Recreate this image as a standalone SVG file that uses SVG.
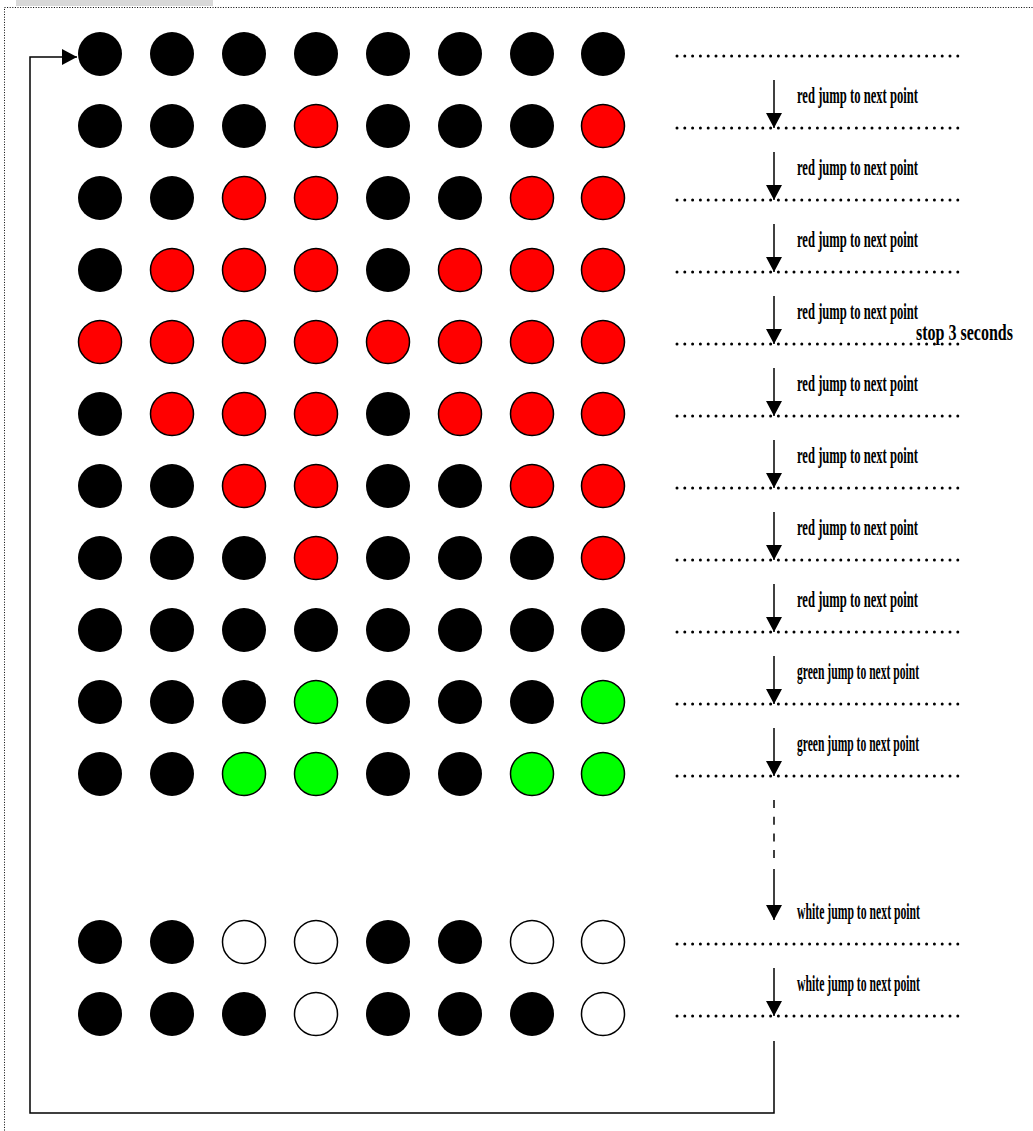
<svg xmlns="http://www.w3.org/2000/svg" width="1033" height="1131" viewBox="0 0 1033 1131">
<defs>
<style>
.b{fill:#000}
.r{fill:#ff0000;stroke:#000;stroke-width:1.5}
.g{fill:#00ff00;stroke:#000;stroke-width:1.5}
.w{fill:#fff;stroke:#000;stroke-width:1.5}
.dot{stroke:#000;stroke-width:3;stroke-linecap:round;stroke-dasharray:0 7.8;fill:none}
.arr{stroke:#000;stroke-width:1.5;fill:none}
.lbl{font-family:"Liberation Serif","Times New Roman",serif;font-size:24px;font-weight:bold;fill:#000}
</style>
<marker id="ah" markerUnits="userSpaceOnUse" markerWidth="16" markerHeight="16" viewBox="0 0 16 16" refX="15" refY="8" orient="auto">
<path d="M0,0 L15,8 L0,16 Z" fill="#000"/>
</marker>
</defs>
<rect x="16" y="0" width="197" height="6" fill="#d9d9d9"/>
<rect x="4.5" y="7.5" width="1040" height="1140" fill="none" stroke="#000" stroke-width="1" stroke-dasharray="1 1.6"/>

<g id="grid">
<g id="row1"><circle class="b" cx="100" cy="54" r="22"/><circle class="b" cx="172" cy="54" r="22"/><circle class="b" cx="244" cy="54" r="22"/><circle class="b" cx="316" cy="54" r="22"/><circle class="b" cx="388" cy="54" r="22"/><circle class="b" cx="460" cy="54" r="22"/><circle class="b" cx="532" cy="54" r="22"/><circle class="b" cx="603" cy="54" r="22"/></g>
<g id="row2"><circle class="b" cx="100" cy="126" r="22"/><circle class="b" cx="172" cy="126" r="22"/><circle class="b" cx="244" cy="126" r="22"/><circle class="r" cx="316" cy="126" r="21.5"/><circle class="b" cx="388" cy="126" r="22"/><circle class="b" cx="460" cy="126" r="22"/><circle class="b" cx="532" cy="126" r="22"/><circle class="r" cx="603" cy="126" r="21.5"/></g>
<g id="row3"><circle class="b" cx="100" cy="198" r="22"/><circle class="b" cx="172" cy="198" r="22"/><circle class="r" cx="244" cy="198" r="21.5"/><circle class="r" cx="316" cy="198" r="21.5"/><circle class="b" cx="388" cy="198" r="22"/><circle class="b" cx="460" cy="198" r="22"/><circle class="r" cx="532" cy="198" r="21.5"/><circle class="r" cx="603" cy="198" r="21.5"/></g>
<g id="row4"><circle class="b" cx="100" cy="270" r="22"/><circle class="r" cx="172" cy="270" r="21.5"/><circle class="r" cx="244" cy="270" r="21.5"/><circle class="r" cx="316" cy="270" r="21.5"/><circle class="b" cx="388" cy="270" r="22"/><circle class="r" cx="460" cy="270" r="21.5"/><circle class="r" cx="532" cy="270" r="21.5"/><circle class="r" cx="603" cy="270" r="21.5"/></g>
<g id="row5"><circle class="r" cx="100" cy="342" r="21.5"/><circle class="r" cx="172" cy="342" r="21.5"/><circle class="r" cx="244" cy="342" r="21.5"/><circle class="r" cx="316" cy="342" r="21.5"/><circle class="r" cx="388" cy="342" r="21.5"/><circle class="r" cx="460" cy="342" r="21.5"/><circle class="r" cx="532" cy="342" r="21.5"/><circle class="r" cx="603" cy="342" r="21.5"/></g>
<g id="row6"><circle class="b" cx="100" cy="414" r="22"/><circle class="r" cx="172" cy="414" r="21.5"/><circle class="r" cx="244" cy="414" r="21.5"/><circle class="r" cx="316" cy="414" r="21.5"/><circle class="b" cx="388" cy="414" r="22"/><circle class="r" cx="460" cy="414" r="21.5"/><circle class="r" cx="532" cy="414" r="21.5"/><circle class="r" cx="603" cy="414" r="21.5"/></g>
<g id="row7"><circle class="b" cx="100" cy="486" r="22"/><circle class="b" cx="172" cy="486" r="22"/><circle class="r" cx="244" cy="486" r="21.5"/><circle class="r" cx="316" cy="486" r="21.5"/><circle class="b" cx="388" cy="486" r="22"/><circle class="b" cx="460" cy="486" r="22"/><circle class="r" cx="532" cy="486" r="21.5"/><circle class="r" cx="603" cy="486" r="21.5"/></g>
<g id="row8"><circle class="b" cx="100" cy="558" r="22"/><circle class="b" cx="172" cy="558" r="22"/><circle class="b" cx="244" cy="558" r="22"/><circle class="r" cx="316" cy="558" r="21.5"/><circle class="b" cx="388" cy="558" r="22"/><circle class="b" cx="460" cy="558" r="22"/><circle class="b" cx="532" cy="558" r="22"/><circle class="r" cx="603" cy="558" r="21.5"/></g>
<g id="row9"><circle class="b" cx="100" cy="630" r="22"/><circle class="b" cx="172" cy="630" r="22"/><circle class="b" cx="244" cy="630" r="22"/><circle class="b" cx="316" cy="630" r="22"/><circle class="b" cx="388" cy="630" r="22"/><circle class="b" cx="460" cy="630" r="22"/><circle class="b" cx="532" cy="630" r="22"/><circle class="b" cx="603" cy="630" r="22"/></g>
<g id="row10"><circle class="b" cx="100" cy="702" r="22"/><circle class="b" cx="172" cy="702" r="22"/><circle class="b" cx="244" cy="702" r="22"/><circle class="g" cx="316" cy="702" r="21.5"/><circle class="b" cx="388" cy="702" r="22"/><circle class="b" cx="460" cy="702" r="22"/><circle class="b" cx="532" cy="702" r="22"/><circle class="g" cx="603" cy="702" r="21.5"/></g>
<g id="row11"><circle class="b" cx="100" cy="774" r="22"/><circle class="b" cx="172" cy="774" r="22"/><circle class="g" cx="244" cy="774" r="21.5"/><circle class="g" cx="316" cy="774" r="21.5"/><circle class="b" cx="388" cy="774" r="22"/><circle class="b" cx="460" cy="774" r="22"/><circle class="g" cx="532" cy="774" r="21.5"/><circle class="g" cx="603" cy="774" r="21.5"/></g>
<g id="row12"><circle class="b" cx="100" cy="942" r="22"/><circle class="b" cx="172" cy="942" r="22"/><circle class="w" cx="244" cy="942" r="21.5"/><circle class="w" cx="316" cy="942" r="21.5"/><circle class="b" cx="388" cy="942" r="22"/><circle class="b" cx="460" cy="942" r="22"/><circle class="w" cx="532" cy="942" r="21.5"/><circle class="w" cx="603" cy="942" r="21.5"/></g>
<g id="row13"><circle class="b" cx="100" cy="1014" r="22"/><circle class="b" cx="172" cy="1014" r="22"/><circle class="b" cx="244" cy="1014" r="22"/><circle class="w" cx="316" cy="1014" r="21.5"/><circle class="b" cx="388" cy="1014" r="22"/><circle class="b" cx="460" cy="1014" r="22"/><circle class="b" cx="532" cy="1014" r="22"/><circle class="w" cx="603" cy="1014" r="21.5"/></g>
</g>

<g id="steps">
<path class="dot" d="M677,56H960M677,128H960M677,200H960M677,272H960M677,344H960M677,416H960M677,488H960M677,560H960M677,632H960M677,704H960M677,776H960M677,944H960M677,1016H960"/>
</g>

<g id="connectors">
<path class="arr" marker-end="url(#ah)" d="M774,80V128"/>
<path class="arr" marker-end="url(#ah)" d="M774,152V200"/>
<path class="arr" marker-end="url(#ah)" d="M774,224V272"/>
<path class="arr" marker-end="url(#ah)" d="M774,296V344"/>
<path class="arr" marker-end="url(#ah)" d="M774,368V416"/>
<path class="arr" marker-end="url(#ah)" d="M774,440V488"/>
<path class="arr" marker-end="url(#ah)" d="M774,512V560"/>
<path class="arr" marker-end="url(#ah)" d="M774,584V632"/>
<path class="arr" marker-end="url(#ah)" d="M774,656V704"/>
<path class="arr" marker-end="url(#ah)" d="M774,728V776"/>
<path class="arr" stroke-dasharray="8 8.7" d="M774,800V860"/>
<path class="arr" marker-end="url(#ah)" d="M774,869V920"/>
<path class="arr" marker-end="url(#ah)" d="M774,968V1016"/>
<path class="arr" marker-end="url(#ah)" d="M774,1041V1113H30V57H77"/>
</g>

<g id="labels">
<text class="lbl" x="797" y="103" textLength="121" lengthAdjust="spacingAndGlyphs">red jump to next point</text>
<text class="lbl" x="797" y="175" textLength="121" lengthAdjust="spacingAndGlyphs">red jump to next point</text>
<text class="lbl" x="797" y="247" textLength="121" lengthAdjust="spacingAndGlyphs">red jump to next point</text>
<text class="lbl" x="797" y="319" textLength="121" lengthAdjust="spacingAndGlyphs">red jump to next point</text>
<text class="lbl" x="916" y="340" textLength="97" lengthAdjust="spacingAndGlyphs">stop 3 seconds</text>
<text class="lbl" x="797" y="391" textLength="121" lengthAdjust="spacingAndGlyphs">red jump to next point</text>
<text class="lbl" x="797" y="463" textLength="121" lengthAdjust="spacingAndGlyphs">red jump to next point</text>
<text class="lbl" x="797" y="535" textLength="121" lengthAdjust="spacingAndGlyphs">red jump to next point</text>
<text class="lbl" x="797" y="607" textLength="121" lengthAdjust="spacingAndGlyphs">red jump to next point</text>
<text class="lbl" x="797" y="679" textLength="122" lengthAdjust="spacingAndGlyphs">green jump to next point</text>
<text class="lbl" x="797" y="751" textLength="122" lengthAdjust="spacingAndGlyphs">green jump to next point</text>
<text class="lbl" x="797" y="919" textLength="123" lengthAdjust="spacingAndGlyphs">white jump to next point</text>
<text class="lbl" x="797" y="991" textLength="123" lengthAdjust="spacingAndGlyphs">white jump to next point</text>
</g>
</svg>
